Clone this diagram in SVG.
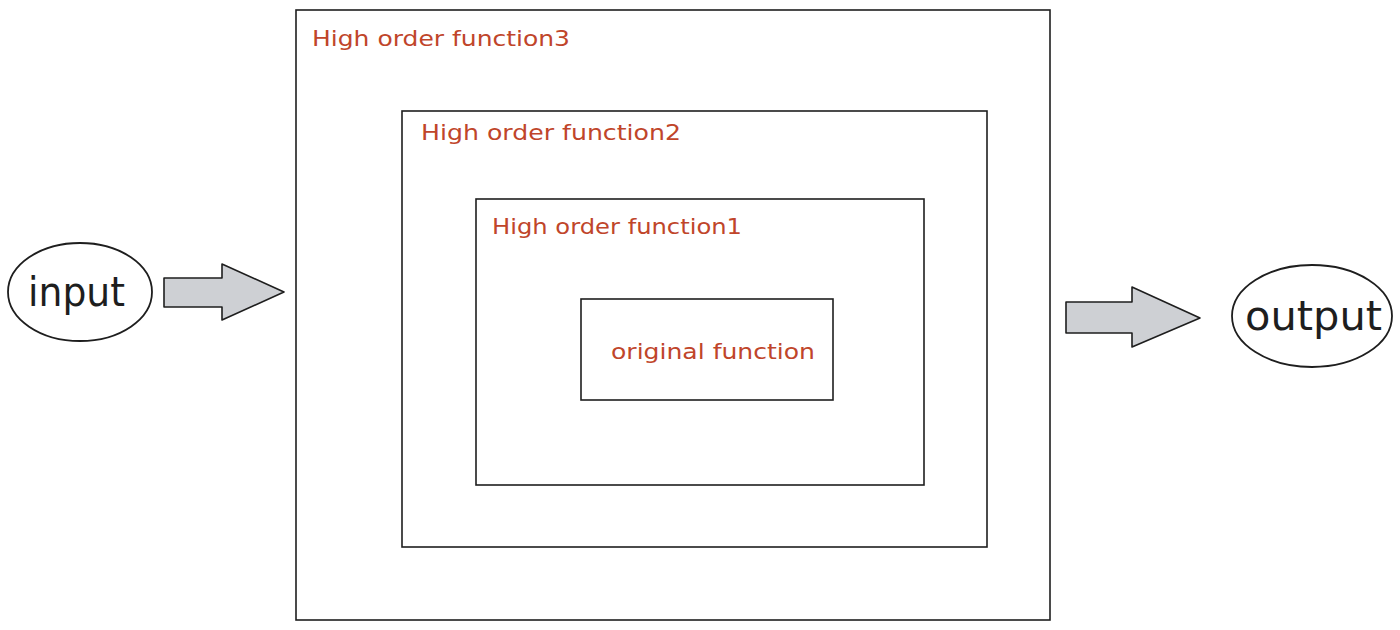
<svg xmlns="http://www.w3.org/2000/svg" width="1400" height="630" viewBox="0 0 1400 630">
<style>
.box{fill:#fff;stroke:#1e1e1e;stroke-width:1.6}
.lbl{fill:#c0452a;font-family:"Comic Sans MS","DejaVu Sans",sans-serif;font-size:21px}
.io{fill:#1e1e1e;font-family:"Comic Sans MS","DejaVu Sans",sans-serif;font-size:40px}
.ell{fill:#fff;stroke:#1e1e1e;stroke-width:1.8}
.arr{fill:#ced0d4;stroke:#1e1e1e;stroke-width:1.6;stroke-linejoin:round}
</style>
<rect width="1400" height="630" fill="#fff"/>
<g id="hof3">
<rect class="box" x="296" y="10" width="754" height="610"/>
<text class="lbl" x="312" y="46" textLength="258" lengthAdjust="spacingAndGlyphs">High order function3</text>
</g>
<g id="hof2">
<rect class="box" x="402" y="111" width="585" height="436"/>
<text class="lbl" x="421" y="140" textLength="260" lengthAdjust="spacingAndGlyphs">High order function2</text>
</g>
<g id="hof1">
<rect class="box" x="476" y="199" width="448" height="286"/>
<text class="lbl" x="492" y="234" textLength="250" lengthAdjust="spacingAndGlyphs">High order function1</text>
</g>
<g id="original">
<rect class="box" x="581" y="299" width="252" height="101"/>
<text class="lbl" x="611" y="359" textLength="204" lengthAdjust="spacingAndGlyphs">original function</text>
</g>
<g id="input">
<ellipse class="ell" cx="80" cy="292" rx="72" ry="49"/>
<text class="io" x="28" y="306" textLength="97" lengthAdjust="spacingAndGlyphs">input</text>
</g>
<g id="output">
<ellipse class="ell" cx="1312" cy="316" rx="80" ry="51"/>
<text class="io" x="1245" y="330" textLength="137" lengthAdjust="spacingAndGlyphs">output</text>
</g>
<g id="connectors">
<path class="arr" d="M164,278 L222,278 L222,264 L284,292 L222,320 L222,307 L164,307 Z"/>
<path class="arr" d="M1066,302 L1132,302 L1132,287 L1200,318 L1132,347 L1132,333 L1066,333 Z"/>
</g>
</svg>
